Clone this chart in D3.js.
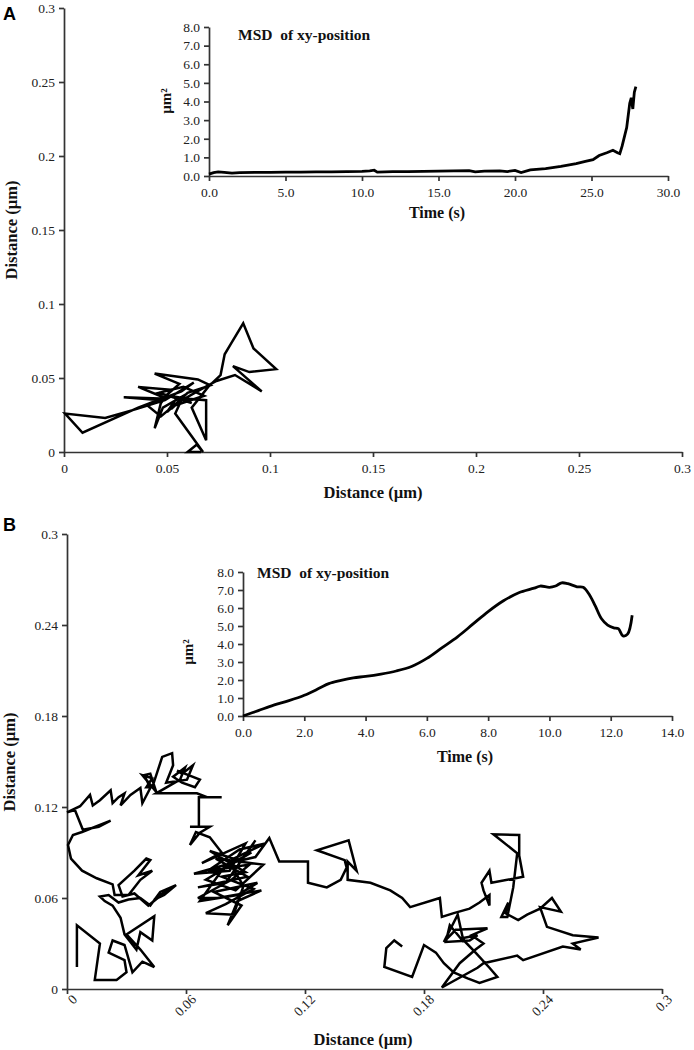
<!DOCTYPE html>
<html><head><meta charset="utf-8">
<script src="https://cdn.jsdelivr.net/npm/d3@7"></script>
<style>
body{margin:0;background:#fff;}
svg{display:block;}
.ax path,.ax line{stroke:#333;stroke-width:1.7px;}
.ax text{font-family:"Liberation Serif","Times New Roman",serif;font-size:13.5px;fill:#222;}
</style></head><body>
<svg id="c" width="694" height="1050"></svg>
<script>
// ---------- DATA ----------
const trajTicksA = [0,0.05,0.1,0.15,0.2,0.25,0.3];
const trajTickLabelsA = ["0","0.05","0.1","0.15","0.2","0.25","0.3"];
const trajTicksB = [0,0.06,0.12,0.18,0.24,0.3];
const trajTickLabelsB = ["0","0.06","0.12","0.18","0.24","0.3"];
const msdYTicks = [0,1,2,3,4,5,6,7,8];
const msdYTickLabels = ["0.0","1.0","2.0","3.0","4.0","5.0","6.0","7.0","8.0"];
const msdXTicksA = [0,5,10,15,20,25,30];
const msdXTickLabelsA = ["0.0","5.0","10.0","15.0","20.0","25.0","30.0"];
const msdXTicksB = [0,2,4,6,8,10,12,14];
const msdXTickLabelsB = ["0.0","2.0","4.0","6.0","8.0","10.0","12.0","14.0"];

// Panel A trajectory (x, y in µm)
const trajA = [
[0.0665,0.000],[0.060,0.000],[0.0645,0.005],[0.0675,0.000],[0.054,0.026],[0.058,0.038],[0.048,0.030],
[0.044,0.016],[0.047,0.033],[0.052,0.042],[0.036,0.044],[0.050,0.036],[0.029,0.037],[0.047,0.035],
[0.056,0.046],[0.044,0.053],[0.065,0.049],[0.071,0.045],[0.060,0.040],[0.050,0.027],[0.055,0.037],
[0.062,0.033],[0.046,0.040],[0.058,0.044],[0.068,0.038],[0.053,0.031],[0.047,0.024],[0.040,0.032],
[0.057,0.041],[0.063,0.047],[0.049,0.035],[0.035,0.029],[0.020,0.023],[0.0005,0.026],[0.009,0.013],
[0.036,0.030],[0.051,0.038],[0.060,0.036],[0.069,0.035],[0.069,0.008],[0.062,0.030],[0.070,0.044],
[0.076,0.052],[0.078,0.066],[0.081,0.073],[0.087,0.087],[0.092,0.070],[0.103,0.056],[0.090,0.054],
[0.082,0.058],[0.096,0.041],[0.083,0.052],[0.074,0.048],[0.066,0.042],[0.056,0.034],[0.052,0.029]
];

// Panel A MSD (time s, µm²)
const msdTimeA = [0,0.3,0.6,1.0,1.5,2,3,4,5,6,7,8,9,10,10.5,10.8,11.0,12,13,14,15,16,17,17.4,18,19,19.5,20,20.4,21,22,23,24,24.6,25.1,25.5,26.0,26.4,26.7,26.85,27.0,27.3,27.5,27.6,27.7,27.8,27.9];
const msdValA  = [0.10,0.18,0.22,0.20,0.15,0.18,0.19,0.20,0.21,0.21,0.22,0.22,0.24,0.25,0.28,0.31,0.21,0.23,0.23,0.25,0.26,0.27,0.29,0.22,0.26,0.27,0.24,0.30,0.18,0.33,0.40,0.52,0.66,0.78,0.88,1.10,1.25,1.38,1.25,1.20,1.60,2.60,3.90,4.20,3.60,4.50,4.80];

// Panel B trajectory (x, y in µm)
const trajB = [
[0.005,0.0145],[0.005,0.042],[0.0166,0.030],[0.014,0.006],[0.025,0.006],[0.030,0.011],[0.029,0.019],
[0.021,0.024],[0.023,0.032],[0.029,0.029],[0.033,0.011],[0.038,0.018],[0.044,0.0145],[0.037,0.026],
[0.030,0.036],[0.044,0.048],[0.043,0.032],[0.037,0.0375],[0.035,0.026],[0.029,0.036],[0.027,0.047],
[0.023,0.055],[0.019,0.058],[0.0166,0.061],[0.021,0.062],[0.026,0.057],[0.031,0.059],[0.037,0.060],
[0.042,0.055],[0.047,0.064],[0.055,0.0685],[0.049,0.062],[0.044,0.059],[0.052,0.0665],[0.041,0.055],
[0.034,0.063],[0.028,0.061],[0.026,0.0685],[0.034,0.078],[0.040,0.086],[0.042,0.085],[0.036,0.075],
[0.043,0.078],[0.037,0.072],[0.031,0.062],[0.024,0.062],[0.023,0.069],[0.015,0.073],[0.0076,0.078],
[0.002,0.086],[0.0005,0.095],[0.003,0.1015],[0.0076,0.1035],
[0.022,0.111],[0.016,0.107],[0.008,0.105],[0.004,0.118],[0.0,0.1165],[0.0066,0.1205],[0.0116,0.128],
[0.013,0.121],[0.0166,0.1245],[0.022,0.131],[0.023,0.1225],[0.026,0.1265],[0.029,0.129],[0.027,0.121],
[0.032,0.128],[0.037,0.1325],[0.038,0.1225],[0.042,0.1325],[0.039,0.141],[0.042,0.142],[0.045,0.130],
[0.038,0.141],[0.043,0.139],[0.040,0.133],[0.043,0.133],[0.048,0.153],[0.053,0.1555],[0.0535,0.1475],
[0.050,0.136],[0.0605,0.138],[0.0635,0.1475],[0.058,0.142],[0.0555,0.144],[0.067,0.138],[0.0645,0.133],
[0.058,0.136],[0.0535,0.140],[0.0595,0.146],[0.057,0.138],[0.045,0.129],[0.0655,0.129],[0.0706,0.1265],
[0.078,0.1265],[0.0665,0.1265],[0.0665,0.107],[0.062,0.107],[0.072,0.107],[0.067,0.103],[0.062,0.095],
[0.065,0.1035],
[0.072,0.100],[0.078,0.090],[0.068,0.083],[0.090,0.096],[0.082,0.078],[0.064,0.076],[0.088,0.085],
[0.095,0.098],[0.080,0.070],[0.066,0.067],[0.091,0.074],[0.075,0.086],[0.099,0.082],[0.085,0.065],
[0.070,0.072],[0.093,0.090],[0.079,0.080],[0.067,0.058],[0.086,0.062],[0.096,0.070],[0.074,0.064],
[0.088,0.055],[0.081,0.042],[0.086,0.058],[0.098,0.065],[0.076,0.060],[0.066,0.060],[0.083,0.072],
[0.092,0.082],[0.071,0.078],[0.087,0.092],[0.100,0.096],[0.084,0.086],[0.072,0.091],[0.090,0.077],
[0.078,0.074],[0.094,0.066],[0.080,0.056],[0.070,0.050],[0.084,0.049],[0.089,0.068],[0.082,0.083],
[0.095,0.087],[0.102,0.0995],
[0.107,0.084],[0.1215,0.084],[0.1215,0.070],[0.131,0.067],[0.138,0.072],[0.141,0.080],[0.140,0.085],
[0.126,0.0915],[0.142,0.098],[0.146,0.078],[0.1415,0.084],[0.1415,0.072],[0.153,0.070],[0.163,0.065],
[0.169,0.060],[0.173,0.054],[0.188,0.060],[0.189,0.0475],[0.195,0.050],[0.203,0.053],[0.208,0.057],
[0.213,0.062],[0.213,0.055],[0.210,0.065],[0.209,0.070],[0.213,0.078],[0.214,0.070],[0.230,0.074],
[0.228,0.088],[0.228,0.1015],[0.215,0.102],[0.227,0.0895],[0.225,0.067],[0.222,0.0475],[0.219,0.0475],
[0.2225,0.057],[0.221,0.050],[0.2275,0.0455],[0.232,0.049],[0.2385,0.053],[0.2445,0.060],[0.249,0.051],
[0.2385,0.054],[0.242,0.041],[0.255,0.0355],[0.268,0.034],[0.255,0.030],[0.259,0.026],[0.250,0.028],
[0.230,0.019],[0.227,0.022],[0.210,0.017],[0.207,0.014],
[0.189,0.001],[0.198,0.017],[0.206,0.026],[0.210,0.030],[0.204,0.0355],[0.212,0.040],[0.196,0.039],
[0.190,0.031],[0.197,0.049],[0.200,0.031],[0.193,0.042],[0.191,0.031],[0.203,0.032],[0.207,0.0355],
[0.199,0.0335],[0.206,0.024],[0.213,0.014],[0.217,0.008],[0.208,0.004],[0.202,0.007],[0.195,0.011],
[0.190,0.017],[0.186,0.024],[0.180,0.029],[0.174,0.008],[0.160,0.0145],[0.161,0.027],[0.165,0.032],
[0.169,0.028]
];

// Panel B MSD (time s, µm²)
const msdTimeB = [0,0.5,1.0,1.5,2.0,2.5,2.8,3.2,3.6,4.0,4.5,5.0,5.5,6.0,6.5,7.0,7.5,8.0,8.5,9.0,9.5,9.7,10.0,10.2,10.4,10.6,10.9,11.1,11.3,11.5,11.7,11.9,12.1,12.25,12.4,12.55,12.7];
const msdValB  = [0.0,0.3,0.6,0.85,1.15,1.55,1.80,1.98,2.12,2.20,2.33,2.50,2.75,3.20,3.80,4.40,5.10,5.80,6.40,6.85,7.10,7.22,7.15,7.22,7.40,7.35,7.18,7.15,6.75,6.10,5.40,5.05,4.90,4.85,4.45,4.55,5.60];

// ---------- DRAW ----------
const svg = d3.select("#c");
const serif = '"Liberation Serif","Times New Roman",serif';

function axes(g, x, y, xt, xl, yt, yl, rotateX){
  const ya = g.append("g").attr("class","ax").attr("transform",`translate(${x.range()[0]},0)`)
    .call(d3.axisLeft(y).tickValues(yt).tickFormat((d,i)=>yl[i]).tickSize(5).tickSizeOuter(0).tickPadding(4));
  const xa = g.append("g").attr("class","ax").attr("transform",`translate(0,${y.range()[0]})`)
    .call(d3.axisBottom(x).tickValues(xt).tickFormat((d,i)=>xl[i]).tickSize(5).tickSizeOuter(0).tickPadding(6));
  if(rotateX){
    xa.selectAll("text").attr("text-anchor","end").attr("dx","0.1em").attr("dy","0.4em")
      .attr("transform","rotate(-45)").attr("y",10).attr("x",-2);
  }
  return [xa,ya];
}
function label(txt,x,y,size,rot,weight){
  const t = svg.append("text").attr("font-family",serif).attr("font-size",size)
    .attr("font-weight",weight||"bold").attr("fill","#111").attr("text-anchor","middle").text(txt);
  if(rot) t.attr("transform",`translate(${x},${y}) rotate(-90)`); else t.attr("x",x).attr("y",y);
  return t;
}

// Panel A
const xA = d3.scaleLinear([0,0.3],[64,682]);
const yA = d3.scaleLinear([0,0.3],[452,8]);
const gA = svg.append("g");
axes(gA,xA,yA,trajTicksA,trajTickLabelsA,trajTicksA,trajTickLabelsA,false);
gA.append("path").datum(trajA).attr("fill","none").attr("stroke","#000").attr("stroke-width",2.5)
  .attr("stroke-linejoin","miter").attr("d",d3.line().x(d=>xA(d[0])).y(d=>yA(d[1])));
label("Distance (µm)",373,498,16.5);
label("Distance (µm)",17,230,16.5,true);
svg.append("text").attr("x",3).attr("y",20).attr("font-family","Arial, 'Liberation Sans', sans-serif")
  .attr("font-weight","bold").attr("font-size",18).text("A");

// Inset A
const xIA = d3.scaleLinear([0,30],[209,668]);
const yIA = d3.scaleLinear([0,8],[176,27]);
const gIA = svg.append("g");
axes(gIA,xIA,yIA,msdXTicksA,msdXTickLabelsA,msdYTicks,msdYTickLabels,false);
gIA.append("path").datum(msdTimeA.map((t,i)=>[t,msdValA[i]])).attr("fill","none").attr("stroke","#000")
  .attr("stroke-width",2.8).attr("d",d3.line().x(d=>xIA(d[0])).y(d=>yIA(d[1])));
svg.append("text").attr("x",238).attr("y",40).attr("font-family",serif).attr("font-weight","bold")
  .attr("font-size",15.5).attr("fill","#111").attr("xml:space","preserve").text("MSD  of xy-position");
label("Time (s)",437,218,16);
label("µm²",171,101,15,true);

// Panel B
const xB = d3.scaleLinear([0,0.3],[67,662]);
const yB = d3.scaleLinear([0,0.3],[989,534]);
const gB = svg.append("g");
axes(gB,xB,yB,trajTicksB,trajTickLabelsB,trajTicksB,trajTickLabelsB,true);
gB.append("path").datum(trajB).attr("fill","none").attr("stroke","#000").attr("stroke-width",2.5)
  .attr("stroke-linejoin","miter").attr("d",d3.line().x(d=>xB(d[0])).y(d=>yB(d[1])));
label("Distance (µm)",363,1045,16.5);
label("Distance (µm)",15,762,16.5,true);
svg.append("text").attr("x",3).attr("y",531).attr("font-family","Arial, 'Liberation Sans', sans-serif")
  .attr("font-weight","bold").attr("font-size",18).text("B");

// Inset B
const xIB = d3.scaleLinear([0,14],[243,672]);
const yIB = d3.scaleLinear([0,8],[716,572]);
const gIB = svg.append("g");
axes(gIB,xIB,yIB,msdXTicksB,msdXTickLabelsB,msdYTicks,msdYTickLabels,false);
gIB.append("path").datum(msdTimeB.map((t,i)=>[t,msdValB[i]])).attr("fill","none").attr("stroke","#000")
  .attr("stroke-width",2.8).attr("d",d3.line().curve(d3.curveCatmullRom).x(d=>xIB(d[0])).y(d=>yIB(d[1])));
svg.append("text").attr("x",257).attr("y",578).attr("font-family",serif).attr("font-weight","bold")
  .attr("font-size",15.5).attr("fill","#111").attr("xml:space","preserve").text("MSD  of xy-position");
label("Time (s)",465,762,16);
label("µm²",193,652,15,true);
</script></body></html>
